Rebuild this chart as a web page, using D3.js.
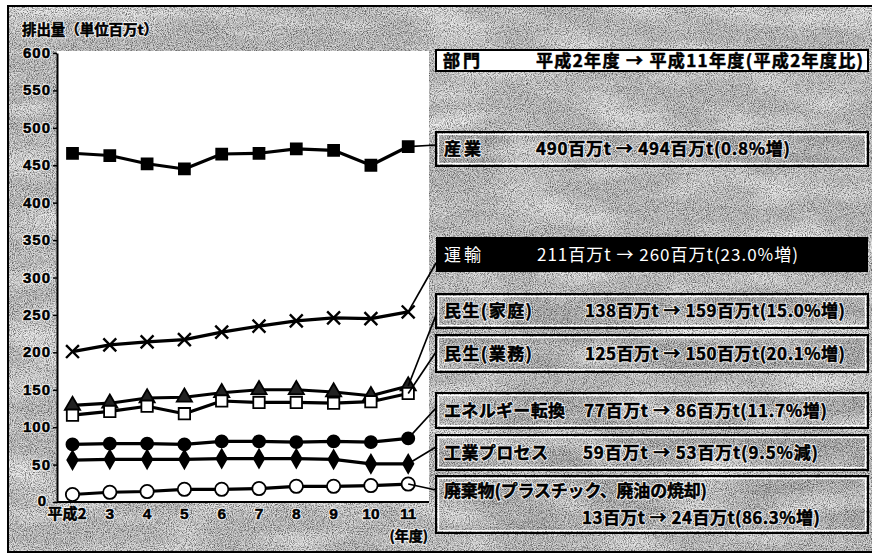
<!DOCTYPE html>
<html>
<head>
<meta charset="utf-8">
<script src="https://cdn.jsdelivr.net/npm/d3@7/dist/d3.min.js"></script>
<style>
  html, body { margin: 0; padding: 0; background: #fff; }
  svg { display: block; }
</style>
</head>
<body>
<svg id="chart" width="872" height="554"></svg>
<script>
// CO2 emissions by sector, fiscal years Heisei 2 to 11 (million t)
const years = ["平成2", "3", "4", "5", "6", "7", "8", "9", "10", "11"];
const yTicks = [0, 50, 100, 150, 200, 250, 300, 350, 400, 450, 500, 550, 600];

const industry   = [466, 463, 452, 445, 465, 466, 472, 470, 450, 475];
const transport  = [201, 210, 214, 217, 227, 235, 242, 246, 245, 254];
const household  = [129, 132, 139, 140, 146, 150, 150, 147, 142, 155];
const commercial = [116, 121, 128, 118, 135, 133, 133, 132, 134, 145];
const energy     = [77, 78, 78, 77, 81, 81, 80, 81, 80, 85];
const process    = [56, 57, 57, 57, 58, 58, 58, 57, 51, 51];
const waste      = [10, 13, 14, 17, 17, 18, 21, 21, 22, 24];

const headerLabel = "部門";
const headerText  = "平成2年度 → 平成11年度(平成2年度比)";
const sectorNames = ["産業", "運輸", "民生(家庭)", "民生(業務)", "エネルギー転換", "工業プロセス", "廃棄物(プラスチック、廃油の焼却)"];
const sectorTexts = [
  "490百万t → 494百万t(0.8%増)",
  "211百万t → 260百万t(23.0%増)",
  "138百万t → 159百万t(15.0%増)",
  "125百万t → 150百万t(20.1%増)",
  "77百万t → 86百万t(11.7%増)",
  "59百万t → 53百万t(9.5%減)",
  "13百万t → 24百万t(86.3%増)"
];

const svg = d3.select("#chart");
const FONT = "'Noto Sans CJK JP', 'Liberation Sans', sans-serif";
const NUMFONT = "'Liberation Sans', Arial, sans-serif";

// textures for the grainy grey backdrop
const defs = svg.append("defs");
function noiseFilter(id, freq, seed, rgb, a, b) {
  const f = defs.append("filter").attr("id", id)
    .attr("x", 0).attr("y", 0).attr("width", "100%").attr("height", "100%");
  f.append("feTurbulence").attr("type", "fractalNoise").attr("baseFrequency", freq)
    .attr("numOctaves", 2).attr("seed", seed).attr("result", "n");
  f.append("feColorMatrix").attr("in", "n").attr("type", "matrix")
    .attr("values", `0 0 0 0 ${rgb}  0 0 0 0 ${rgb}  0 0 0 0 ${rgb}  ${a} 0 0 0 ${b}`);
}
noiseFilter("grainDark", 0.95, 3, 0, 3.0, -1.2);
noiseFilter("grainLight", 0.9, 11, 1, 3.0, -1.2);
noiseFilter("patches", "0.012 0.035", 5, 1, 2.4, -1.0);

function grainy(g, x, y, w, h, base, k) {
  g.append("rect").attr("x", x).attr("y", y).attr("width", w).attr("height", h).attr("fill", base);
  g.append("rect").attr("x", x).attr("y", y).attr("width", w).attr("height", h)
    .attr("filter", "url(#patches)").attr("opacity", 0.7 * k);
  g.append("rect").attr("x", x).attr("y", y).attr("width", w).attr("height", h)
    .attr("filter", "url(#grainDark)").attr("opacity", 0.5 * k);
  g.append("rect").attr("x", x).attr("y", y).attr("width", w).attr("height", h)
    .attr("filter", "url(#grainLight)").attr("opacity", 0.6 * k);
}

// heavy gothic text with an optional pale halo
function label(g, tx, ty, s, opts) {
  const o = Object.assign({ size: 15, family: FONT, anchor: "start", halo: true,
                            fill: "#000", weight: "bold", len: null, thick: 0.55 }, opts || {});
  const add = () => {
    const t = g.append("text").attr("x", tx).attr("y", ty)
      .attr("font-family", o.family).attr("font-size", o.size)
      .attr("font-weight", o.weight).attr("text-anchor", o.anchor).text(s);
    if (o.len) t.attr("textLength", o.len).attr("lengthAdjust", "spacing");
    return t;
  };
  if (o.halo) add().attr("fill", "#fff").attr("stroke", "#fff").attr("stroke-width", 2.6)
    .attr("stroke-linejoin", "round").attr("opacity", 0.85);
  add().attr("fill", o.fill).attr("stroke", o.thick ? o.fill : "none").attr("stroke-width", o.thick);
}

// framed backdrop
const back = svg.append("g");
grainy(back, 8, 6, 864, 546, "#b8b8b8", 1);
back.append("rect").attr("x", 8).attr("y", 6).attr("width", 870).attr("height", 546)
  .attr("fill", "none").attr("stroke", "#000").attr("stroke-width", 2);

// plot area
const plot = { left: 57, right: 429, top: 53, bottom: 502 };
svg.append("rect").attr("x", plot.left).attr("y", plot.top - 2)
  .attr("width", plot.right - plot.left).attr("height", plot.bottom - plot.top + 2)
  .attr("fill", "#fff");

const x = d3.scalePoint().domain(years).range([72.5, 408.2]);
const y = d3.scaleLinear().domain([0, 600]).range([plot.bottom, plot.top]);

// y axis: line and ticks from the axis generator, labels drawn heavier
const yAxis = svg.append("g").attr("transform", `translate(${plot.left},0)`)
  .call(d3.axisLeft(y).tickValues(yTicks).tickSize(4).tickSizeOuter(0).tickFormat(""));
yAxis.select(".domain").attr("stroke", "#000").attr("stroke-width", 2);
yAxis.selectAll(".tick line").attr("stroke", "#000").attr("stroke-width", 1.5);
const yLab = svg.append("g");
yTicks.forEach(v => {
  if (v === 0) label(yLab, 46, y(v) + 4, String(v), { family: NUMFONT, size: 15, anchor: "end" });
  else label(yLab, 50, y(v) + 5, String(v), { family: NUMFONT, size: 15, anchor: "end", len: v >= 100 ? 27 : 18 });
});

// x axis baseline and year labels
svg.append("line").attr("x1", plot.left).attr("x2", plot.right)
  .attr("y1", plot.bottom).attr("y2", plot.bottom)
  .attr("stroke", "#000").attr("stroke-width", 2);
const xLab = svg.append("g");
years.forEach((d, i) => {
  if (i === 0) label(xLab, x(d) + 14, 519, d, { size: 15, anchor: "end", len: 39 });
  else label(xLab, x(d), 519, d, { family: NUMFONT, size: 15.5, anchor: "middle" });
});
label(svg, 428, 541, "(年度)", { size: 14, anchor: "end" });

// axis title
label(svg, 22, 35, "排出量（単位百万t）", { size: 14.5, len: 136 });

// series
const series = [
  { values: industry,   symbol: d3.symbolSquare,   size: 120, fill: "#000" },
  { values: transport,  symbol: d3.symbolTimes || d3.symbolX, size: 110, fill: "none" },
  { values: household,  symbol: d3.symbolTriangle, size: 100, fill: "#222" },
  { values: commercial, symbol: d3.symbolSquare,   size: 130, fill: "#fff" },
  { values: energy,     symbol: d3.symbolCircle,   size: 115, fill: "#000" },
  { values: process,    symbol: d3.symbolDiamond,  size: 95,  fill: "#000" },
  { values: waste,      symbol: d3.symbolCircle,   size: 140, fill: "#fff" }
];

const line = d3.line().x((d, i) => x(years[i])).y(d => y(d));
const marks = svg.append("g");
series.forEach(s => {
  marks.append("path").datum(s.values).attr("d", line)
    .attr("fill", "none").attr("stroke", "#000").attr("stroke-width", 3.2)
    .attr("stroke-linejoin", "round");
});
series.forEach(s => {
  marks.append("g").selectAll("path").data(s.values).join("path")
    .attr("transform", (d, i) => `translate(${x(years[i])},${y(d)})`)
    .attr("d", d3.symbol().type(s.symbol).size(s.size))
    .attr("fill", s.fill).attr("stroke", "#000")
    .attr("stroke-width", s.fill === "none" ? 2.4 : 1.8);
});

// legend boxes on the right
const boxX = 436, boxW = 432;
const boxes = [
  { top: 132, h: 34, end: 145 },
  { top: 237, h: 35, end: 263, dark: true },
  { top: 294, h: 34, end: 315 },
  { top: 335, h: 37, end: 352 },
  { top: 393, h: 35, end: 408 },
  { top: 435, h: 35, end: 447 },
  { top: 476, h: 57, end: 490, twoLines: true }
];
const valueX   = [536, 537, 585, 585, 584, 583, 582];
const valueLen = [254, 261, 260, 260, 243, 235, 238];
const nameLen  = [37, 37, 88, 88, 121, 104, 263];
const all = [industry, transport, household, commercial, energy, process, waste];

const leg = svg.append("g");

// header row
leg.append("rect").attr("x", boxX).attr("y", 50).attr("width", boxW).attr("height", 21)
  .attr("fill", "#fff").attr("stroke", "#000").attr("stroke-width", 2);
label(leg, 443, 67, headerLabel, { size: 17, halo: false, len: 37 });
label(leg, 536, 67, headerText, { size: 17, halo: false, len: 327 });

boxes.forEach((b, i) => {
  const last = all[i][all[i].length - 1];
  // leader line from the last point to its box
  leg.append("line")
    .attr("x1", x(years[years.length - 1])).attr("y1", y(last))
    .attr("x2", boxX).attr("y2", b.end)
    .attr("stroke", "#000").attr("stroke-width", 1.7);

  const g = leg.append("g");
  if (b.dark) {
    g.append("rect").attr("x", boxX).attr("y", b.top).attr("width", boxW).attr("height", b.h)
      .attr("fill", "#000");
  } else {
    grainy(g, boxX, b.top, boxW, b.h, "#a4a4a4", 1);
    g.append("rect").attr("x", boxX).attr("y", b.top).attr("width", boxW).attr("height", b.h)
      .attr("fill", "none").attr("stroke", "#000").attr("stroke-width", 2);
    g.append("rect").attr("x", boxX + 2.5).attr("y", b.top + 2.5)
      .attr("width", boxW - 5).attr("height", b.h - 5)
      .attr("fill", "none").attr("stroke", "#fff").attr("stroke-width", 1.2);
  }
  const opts = b.dark ? { size: 17, weight: "normal", fill: "#fff", halo: false, thick: 0 }
                      : { size: 17 };
  if (b.twoLines) {
    label(g, 444, b.top + 21, sectorNames[i], Object.assign({ len: nameLen[i] }, opts));
    label(g, valueX[i], b.top + 48, sectorTexts[i], Object.assign({ len: valueLen[i] }, opts));
  } else {
    const base = b.top + b.h / 2 + 6;
    label(g, 444, base, sectorNames[i], Object.assign({ len: nameLen[i] }, opts));
    label(g, valueX[i], base, sectorTexts[i], Object.assign({ len: valueLen[i] }, opts));
  }
});
</script>
</body>
</html>
